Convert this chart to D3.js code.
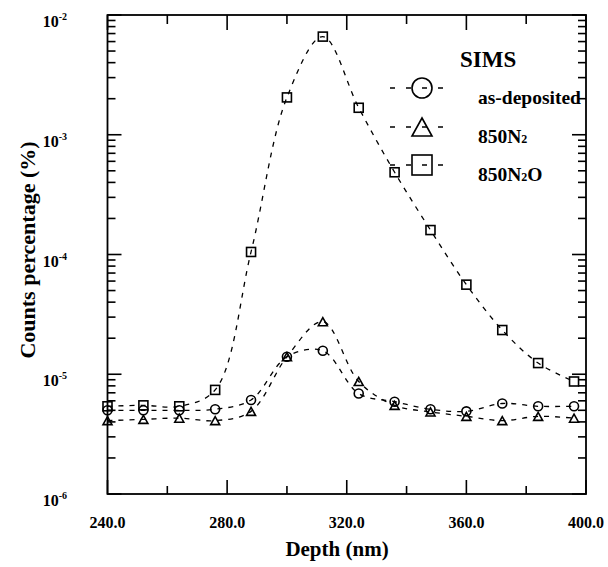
<!DOCTYPE html>
<html>
<head>
<meta charset="utf-8">
<script src="https://cdn.jsdelivr.net/npm/d3@7/dist/d3.min.js"></script>
<style>
  html, body { margin: 0; padding: 0; background: #fff; }
  svg { display: block; }
  text { font-family: "Liberation Serif", "DejaVu Serif", serif; font-weight: bold; fill: #000; }
</style>
</head>
<body>
<svg id="chart" width="608" height="567"></svg>
<script>
// ---- data ----
const depth = [240, 252, 264, 276, 288, 300, 312, 324, 336, 348, 360, 372, 384, 396];
const asDeposited = [5.0e-6, 5.0e-6, 5.0e-6, 5.1e-6, 6.1e-6, 1.40e-5, 1.57e-5, 6.9e-6, 5.9e-6, 5.1e-6, 4.9e-6, 5.7e-6, 5.4e-6, 5.4e-6];
const n2 = [4.1e-6, 4.2e-6, 4.3e-6, 4.1e-6, 4.9e-6, 1.40e-5, 2.75e-5, 8.7e-6, 5.5e-6, 4.85e-6, 4.45e-6, 4.1e-6, 4.45e-6, 4.3e-6];
const n2o = [5.4e-6, 5.5e-6, 5.4e-6, 7.4e-6, 1.05e-4, 2.05e-3, 6.6e-3, 1.68e-3, 4.86e-4, 1.6e-4, 5.6e-5, 2.34e-5, 1.24e-5, 8.7e-6];
const xTicks = [240, 280, 320, 360, 400];
const xMinorTicks = [260, 300, 340, 380];
const yExponents = [-6, -5, -4, -3, -2];
const seriesNames = ["as-deposited", "850N2", "850N2O"];
const legendTitle = "SIMS";

const svg = d3.select("#chart");
const x = d3.scaleLinear().domain([240, 400]).range([107.5, 586]);
const y = d3.scaleLog().domain([1e-6, 1e-2]).range([494, 15]);

// frame
svg.append("rect").attr("x", x(240)).attr("y", y(1e-2))
  .attr("width", x(400) - x(240)).attr("height", y(1e-6) - y(1e-2))
  .attr("fill", "none").attr("stroke", "#000").attr("stroke-width", 1.8);

// x ticks (bottom & top, inward)
const tickG = svg.append("g").attr("stroke", "#000").attr("stroke-width", 1.6);
xTicks.forEach(t => {
  tickG.append("line").attr("x1", x(t)).attr("x2", x(t)).attr("y1", y(1e-6)).attr("y2", y(1e-6) - 14);
  tickG.append("line").attr("x1", x(t)).attr("x2", x(t)).attr("y1", y(1e-2)).attr("y2", y(1e-2) + 15);
});
xMinorTicks.forEach(t => {
  tickG.append("line").attr("x1", x(t)).attr("x2", x(t)).attr("y1", y(1e-6)).attr("y2", y(1e-6) - 8);
  tickG.append("line").attr("x1", x(t)).attr("x2", x(t)).attr("y1", y(1e-2)).attr("y2", y(1e-2) + 9);
});
// y ticks (left & right, inward), majors + log minors
yExponents.forEach(e => {
  const v = Math.pow(10, e);
  tickG.append("line").attr("x1", x(240)).attr("x2", x(240) + 14).attr("y1", y(v)).attr("y2", y(v));
  tickG.append("line").attr("x1", x(400)).attr("x2", x(400) - 14).attr("y1", y(v)).attr("y2", y(v));
  if (e < -2) {
    for (let m = 2; m <= 9; m++) {
      const mv = m * v;
      tickG.append("line").attr("x1", x(240)).attr("x2", x(240) + 8).attr("y1", y(mv)).attr("y2", y(mv));
      tickG.append("line").attr("x1", x(400)).attr("x2", x(400) - 8).attr("y1", y(mv)).attr("y2", y(mv));
    }
  }
});

// x tick labels
xTicks.forEach(t => {
  svg.append("text").attr("x", x(t)).attr("y", 528).attr("text-anchor", "middle")
    .attr("font-size", 16).text(t.toFixed(1));
});
// y tick labels
yExponents.forEach(e => {
  const tx = svg.append("text").attr("x", 67).attr("y", y(Math.pow(10, e)) + 12)
    .attr("text-anchor", "end").attr("font-size", 16);
  tx.append("tspan").text("10");
  tx.append("tspan").attr("font-size", 10).attr("dy", -7).text(String(e));
});

// axis titles
svg.append("text").attr("x", 337).attr("y", 556).attr("text-anchor", "middle")
  .attr("font-size", 21).text("Depth (nm)");
svg.append("text").attr("transform", "translate(35,250) rotate(-90)").attr("text-anchor", "middle")
  .attr("font-size", 22).text("Counts percentage (%)");

// series
const seriesData = [asDeposited, n2, n2o];
const line = d3.line().x(d => x(d[0])).y(d => y(d[1])).curve(d3.curveCatmullRom.alpha(0.5));
const plotG = svg.append("g");
seriesData.forEach(vals => {
  const pts = depth.map((d, i) => [d, vals[i]]);
  plotG.append("path").attr("d", line(pts)).attr("fill", "none")
    .attr("stroke", "#000").attr("stroke-width", 1.3).attr("stroke-dasharray", "5,6");
});

function drawMarker(g, kind, cx, cy, s) {
  const st = { fill: "none", stroke: "#000", "stroke-width": 1.6 };
  let el;
  if (kind === 0) {
    el = g.append("circle").attr("cx", cx).attr("cy", cy).attr("r", s / 2);
  } else if (kind === 1) {
    const h = s * 0.9;
    el = g.append("path").attr("d", `M${cx},${cy - h / 2}L${cx + s / 2},${cy + h / 2}L${cx - s / 2},${cy + h / 2}Z`);
  } else {
    el = g.append("rect").attr("x", cx - s / 2).attr("y", cy - s / 2).attr("width", s).attr("height", s);
  }
  Object.entries(st).forEach(([k, v]) => el.attr(k, v));
}
seriesData.forEach((vals, k) => {
  depth.forEach((d, i) => drawMarker(plotG, k, x(d), y(vals[i]), 9));
});

// legend
const legG = svg.append("g");
legG.append("text").attr("x", 460).attr("y", 67).attr("font-size", 23).text(legendTitle);
const legRows = [88, 127, 165];
seriesNames.forEach((name, k) => {
  const ly = legRows[k];
  legG.append("line").attr("x1", 390).attr("x2", 450).attr("y1", ly).attr("y2", ly)
    .attr("stroke", "#000").attr("stroke-width", 1.3).attr("stroke-dasharray", "5,11");
  drawMarker(legG, k, 422, ly, 20);
  const t = legG.append("text").attr("x", 478).attr("y", ly + 16).attr("font-size", 19.5);
  if (name === "850N2") {
    t.append("tspan").text("850N");
    t.append("tspan").attr("font-size", 12).text("2");
  } else if (name === "850N2O") {
    t.append("tspan").text("850N");
    t.append("tspan").attr("font-size", 12).text("2");
    t.append("tspan").text("O");
  } else {
    t.text(name);
  }
});
</script>
</body>
</html>
